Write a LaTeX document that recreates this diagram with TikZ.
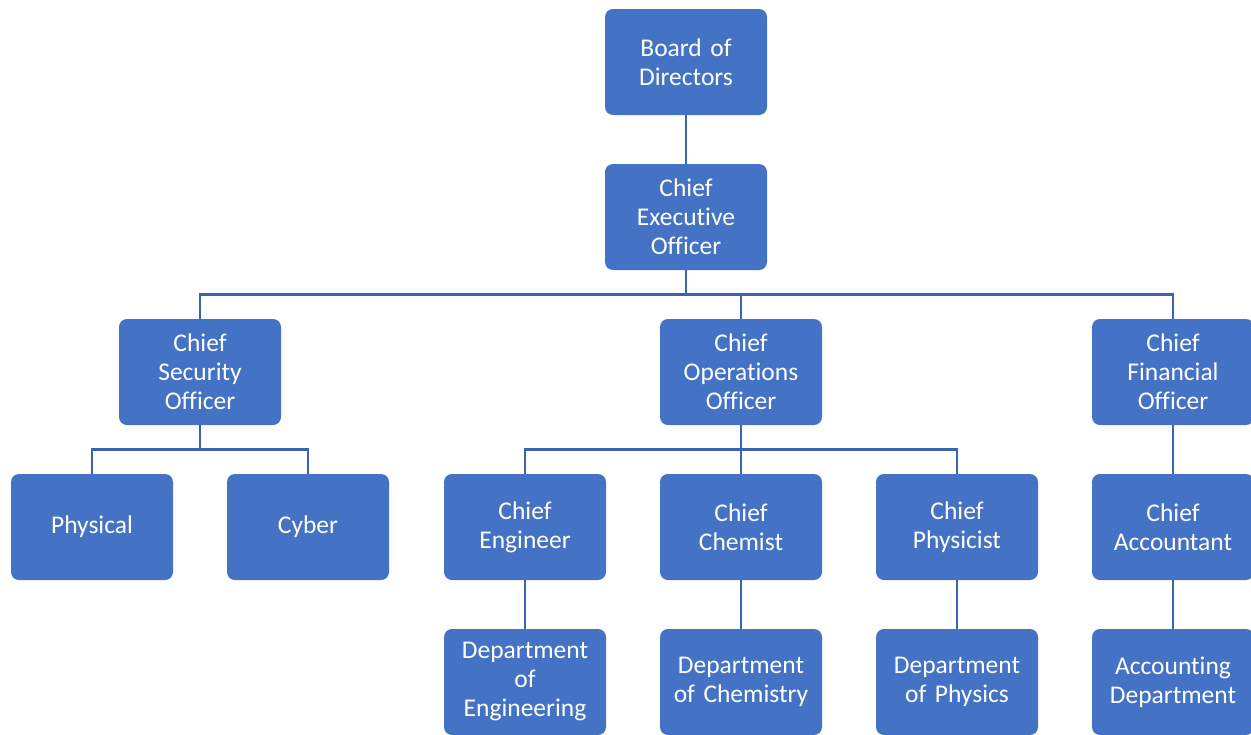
\documentclass[tikz,border=0pt]{standalone}
\usepackage{fontspec}
\setmainfont[Ligatures=NoCommon,WordSpace={0.85,0,0}]{Carlito}
\definecolor{boxblue}{HTML}{4472C4}
\definecolor{lineblue}{HTML}{3B64B0}
\begin{document}
\begin{tikzpicture}[x=1pt,y=-1pt,
  orgbox/.style={fill=boxblue,rounded corners=8pt,minimum width=162pt,minimum height=106pt,
    text width=156pt,align=center,inner sep=0pt,text=white,font=\fontsize{25.5}{29}\selectfont},
  conn/.style={draw=lineblue,line width=2.8pt}]
\useasboundingbox (0,0) rectangle (1251,734);
\node[orgbox] (bod) at (686,62) {Board of\\Directors};
\node[orgbox] (ceo) at (686,217) {Chief\\Executive\\Officer};
\node[orgbox] (cso) at (200,372) {Chief\\Security\\Officer};
\node[orgbox] (coo) at (741,372) {Chief\\Operations\\Officer};
\node[orgbox] (cfo) at (1173,372) {Chief\\Financial\\Officer};
\node[orgbox] (phy) at (92,527) {Physical};
\node[orgbox] (cyb) at (308,527) {Cyber};
\node[orgbox] (eng) at (525,527) {Chief\\Engineer};
\node[orgbox] (che) at (741,527) {Chief\\Chemist};
\node[orgbox] (phs) at (957,527) {Chief\\Physicist};
\node[orgbox] (acc) at (1173,527) {Chief\\Accountant};
\node[orgbox] (deng) at (525,682) {Department\\of\\Engineering};
\node[orgbox] (dche) at (741,682) {Department\\of Chemistry};
\node[orgbox] (dphs) at (957,682) {Department\\of Physics};
\node[orgbox] (dacc) at (1173,682) {Accounting\\Department};
\draw[conn] (bod.south) -- (ceo.north);
\draw[conn] (ceo.south) -- ++(0,24) -| (cso.north);
\draw[conn] (ceo.south) -- ++(0,24) -| (coo.north);
\draw[conn] (ceo.south) -- ++(0,24) -| (cfo.north);
\draw[conn] (cso.south) -- ++(0,24) -| (phy.north);
\draw[conn] (cso.south) -- ++(0,24) -| (cyb.north);
\draw[conn] (coo.south) -- ++(0,24) -| (eng.north);
\draw[conn] (coo.south) -- (che.north);
\draw[conn] (coo.south) -- ++(0,24) -| (phs.north);
\draw[conn] (cfo.south) -- (acc.north);
\draw[conn] (eng.south) -- (deng.north);
\draw[conn] (che.south) -- (dche.north);
\draw[conn] (phs.south) -- (dphs.north);
\draw[conn] (acc.south) -- (dacc.north);
\end{tikzpicture}
\end{document}
